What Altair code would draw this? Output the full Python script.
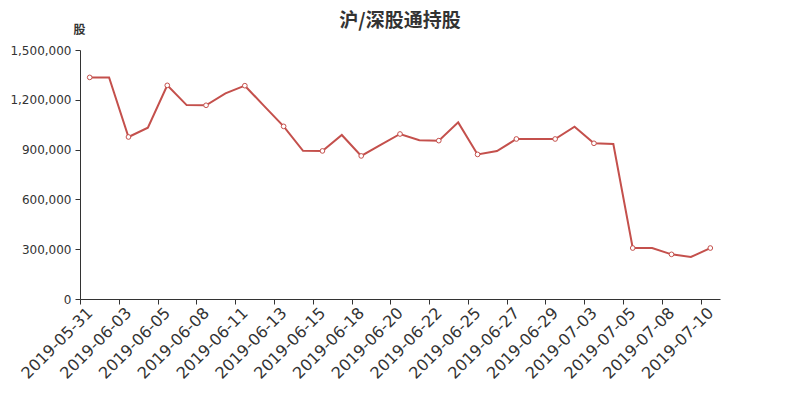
import altair as alt
import pandas as pd

title_text = "沪/深股通持股"
dates = [
    "2019-05-31", "2019-06-01", "2019-06-03", "2019-06-04", "2019-06-05",
    "2019-06-06", "2019-06-08", "2019-06-10", "2019-06-11", "2019-06-12",
    "2019-06-13", "2019-06-14", "2019-06-15", "2019-06-17", "2019-06-18",
    "2019-06-19", "2019-06-20", "2019-06-21", "2019-06-22", "2019-06-24",
    "2019-06-25", "2019-06-26", "2019-06-27", "2019-06-28", "2019-06-29",
    "2019-07-02", "2019-07-03", "2019-07-04", "2019-07-05", "2019-07-06",
    "2019-07-08", "2019-07-09", "2019-07-10",
]
shares = [
    1335000, 1335000, 976000, 1032000, 1287000,
    1168000, 1167000, 1239000, 1285000, 1162000,
    1040000, 893000, 892000, 988000, 862000,
    928000, 994000, 956000, 954000, 1064000,
    871000, 891000, 964000, 964000, 964000,
    1038000, 938000, 934000, 307000, 307000,
    269000, 253000, 307000,
]
tick_labels = dates[::2]
y_ticks = [0, 300000, 600000, 900000, 1200000, 1500000]

df = pd.DataFrame({"date": dates, "shares": shares})

color = "#c4504c"
step = 640 / len(dates)

x = alt.X(
    "date:N",
    sort=None,
    scale=alt.Scale(type="point", padding=0.5),
    axis=alt.Axis(
        values=tick_labels,
        title=None,
        labelAngle=-45,
        labelAlign="right",
        labelBaseline="middle",
        labelFontSize=16,
        labelFont="DejaVu Sans",
        labelColor="#333333",
        labelPadding=6,
        tickOffset=-step / 2,
        labelOffset=step / 2,
        tickSize=5,
        tickColor="#333333",
        domainColor="#333333",
        grid=False,
        labelOverlap=False,
    ),
)
y = alt.Y(
    "shares:Q",
    scale=alt.Scale(domain=[0, 1500000], nice=False),
    axis=alt.Axis(
        values=y_ticks,
        format=",d",
        title="股",
        titleAngle=0,
        titleX=-1,
        titleY=-21,
        titleAlign="center",
        titleBaseline="middle",
        titleFontSize=12,
        titleFont="Noto Sans CJK SC",
        titleFontWeight="bold",
        titleColor="#333333",
        labelFontSize=12,
        labelFont="DejaVu Sans",
        labelColor="#333333",
        labelPadding=4,
        tickSize=5,
        tickColor="#333333",
        domainColor="#333333",
        grid=False,
    ),
)

base = alt.Chart(df)
line = base.mark_line(color=color, strokeWidth=2).encode(x=x, y=y)
pts = (
    base.transform_window(idx="row_number()")
    .transform_filter("(datum.idx - 1) % 2 == 0")
    .mark_point(shape="circle", size=22, filled=True, fill="white",
                stroke=color, strokeWidth=1, opacity=1)
    .encode(x=x, y=y)
)
title = (
    alt.Chart(pd.DataFrame({"t": [title_text]}))
    .mark_text(font="Noto Sans CJK SC", fontSize=19, fontWeight="bold",
               color="#333333", align="center", baseline="middle")
    .encode(text="t:N", x=alt.value(320), y=alt.value(-29))
)

chart = (
    alt.layer(line, pts, title)
    .properties(
        width=640,
        height=249,
        padding={"left": 72, "top": 42, "right": 72, "bottom": 93},
        autosize=alt.AutoSizeParams(type="none"),
    )
    .configure_view(stroke=None)
)

chart.save("out.html", embed_options={"renderer": "svg", "actions": False})
